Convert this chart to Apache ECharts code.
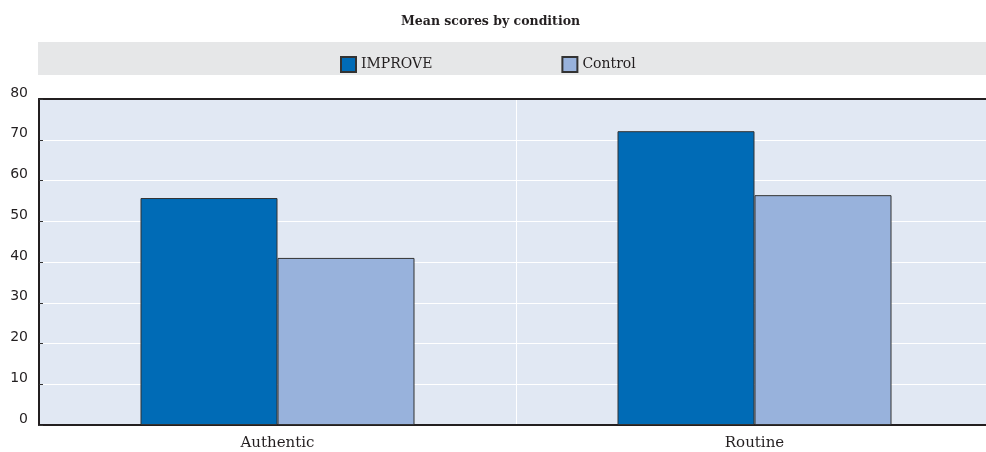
<!DOCTYPE html>
<html>
<head>
<meta charset="utf-8">
<script src="https://cdn.jsdelivr.net/npm/echarts@6/dist/echarts.min.js"></script>
<style>
html, body { margin: 0; padding: 0; background: #fff; overflow: hidden; }
#main { width: 993px; height: 452px; }
</style>
</head>
<body>
<div id="main"></div>
<script>
var categories = ['Authentic', 'Routine'];
var improveScores = [55.7, 72.1];
var controlScores = [41.0, 56.4];
var yTicks = [0, 10, 20, 30, 40, 50, 60, 70, 80];

var chartDom = document.getElementById('main');
var myChart = echarts.init(chartDom);
var option;

// the plot runs a few px past the right edge of the window, like the original
option = {
    animation: false,
    title: {
        text: 'Mean scores by condition',
        left: 396,
        top: 10,
        textStyle: {
            fontFamily: 'DejaVu Serif',
            fontSize: 12.5,
            fontWeight: 'bold',
            color: '#231f20'
        }
    },
    graphic: [
        {
            type: 'rect',
            left: 38,
            top: 42,
            z: -1,
            shape: { width: 955, height: 33 },
            style: { fill: '#e6e7e8' }
        }
    ],
    legend: {
        left: 335,
        top: 51,
        itemWidth: 15,
        itemHeight: 15,
        itemGap: 129,
        icon: 'rect',
        textStyle: {
            fontFamily: 'DejaVu Serif',
            fontSize: 14,
            color: '#231f20'
        },
        data: ['IMPROVE', 'Control']
    },
    grid: {
        left: 39,
        right: 0,
        top: 99,
        bottom: 27,
        show: true,
        backgroundColor: '#e1e8f3',
        borderWidth: 0
    },
    xAxis: [
        {
            type: 'category',
            data: categories,
            axisLine: { lineStyle: { color: '#231f20', width: 2 } },
            axisTick: { inside: true, length: 4, lineStyle: { color: '#555' } },
            splitLine: { show: true, lineStyle: { color: '#ffffff', width: 1 } },
            axisLabel: {
                margin: 11,
                fontFamily: 'DejaVu Serif',
                fontSize: 15,
                color: '#231f20'
            }
        },
        {
            type: 'category',
            position: 'top',
            data: categories,
            axisLine: { lineStyle: { color: '#231f20', width: 2 } },
            axisTick: { show: false },
            axisLabel: { show: false }
        }
    ],
    yAxis: {
        type: 'value',
        min: yTicks[0],
        max: yTicks[yTicks.length - 1],
        interval: 10,
        axisLine: { show: true, lineStyle: { color: '#231f20', width: 2 } },
        axisTick: { show: true, inside: true, length: 4, lineStyle: { color: '#333' } },
        splitLine: { lineStyle: { color: '#ffffff', width: 1 } },
        axisLabel: {
            margin: 11,
            verticalAlign: 'bottom',
            lineHeight: 12,
            fontFamily: 'DejaVu Sans',
            fontSize: 14,
            color: '#231f20'
        }
    },
    series: [
        {
            name: 'IMPROVE',
            type: 'bar',
            data: improveScores,
            barWidth: 137,
            barGap: 0,
            itemStyle: { color: '#006bb6', borderColor: '#333', borderWidth: 1 }
        },
        {
            name: 'Control',
            type: 'bar',
            data: controlScores,
            barWidth: 137,
            barGap: 0,
            itemStyle: { color: '#98b2dc', borderColor: '#333', borderWidth: 1 }
        }
    ]
};

option && myChart.setOption(option);
window.addEventListener('resize', function () {
    myChart.resize();
});
</script>
</body>
</html>
